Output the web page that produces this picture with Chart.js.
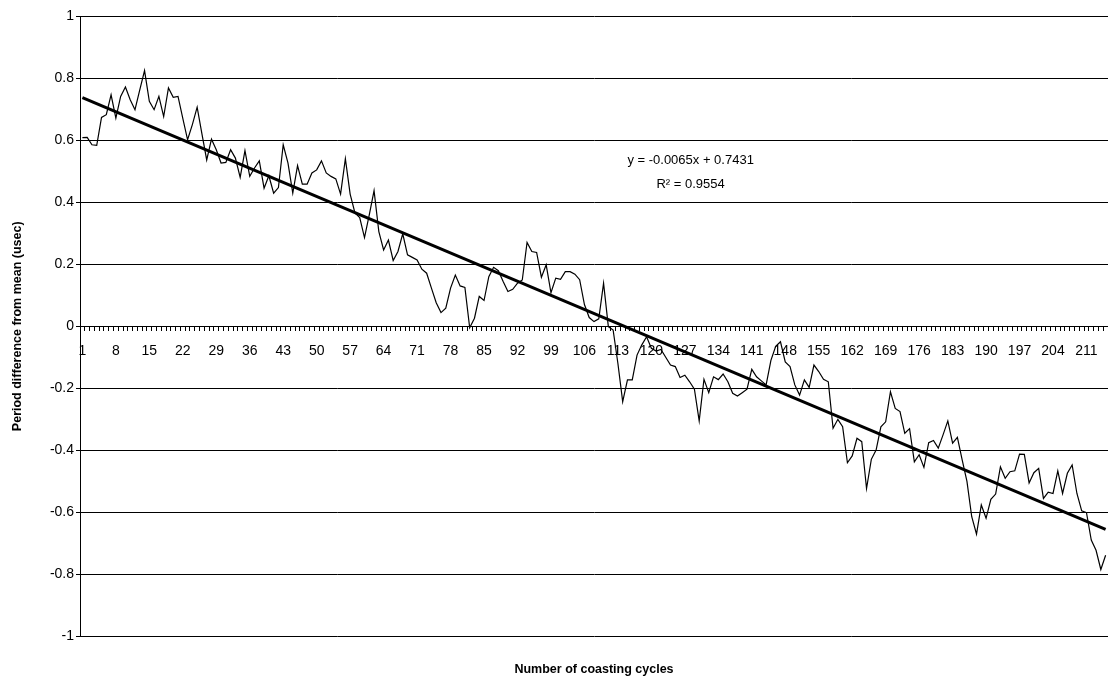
<!DOCTYPE html>
<html>
<head>
  <meta charset="UTF-8">
  <title>Period difference from mean</title>
  <script src="https://cdn.jsdelivr.net/npm/chart.js"></script>
  <style>
    body {
      margin: 0;
      background: #fff;
    }
    #wrap {
      width: 1108px;
      height: 681px;
    }
  </style>
</head>
<body>
  <div id="wrap">
    <canvas id="coastChart" width="1108" height="681"></canvas>
  </div>

  <script>
    // period difference from mean (usec), one value per coasting cycle
    const periodDiff = [
      0.608, 0.609, 0.585, 0.583, 0.673, 0.682, 0.746, 0.671, 0.741, 0.771,
      0.730, 0.698, 0.762, 0.824, 0.725, 0.698, 0.741, 0.676, 0.768, 0.738,
      0.741, 0.670, 0.601, 0.650, 0.706, 0.620, 0.536, 0.603, 0.569, 0.526,
      0.528, 0.569, 0.542, 0.480, 0.566, 0.483, 0.510, 0.533, 0.445, 0.485,
      0.429, 0.447, 0.585, 0.526, 0.429, 0.518, 0.458, 0.458, 0.494, 0.504,
      0.533, 0.494, 0.483, 0.475, 0.426, 0.540, 0.426, 0.365, 0.350, 0.286,
      0.359, 0.437, 0.305, 0.246, 0.278, 0.212, 0.241, 0.298, 0.230, 0.222,
      0.214, 0.184, 0.171, 0.123, 0.076, 0.044, 0.058, 0.123, 0.165, 0.130,
      0.125, -0.005, 0.026, 0.096, 0.083, 0.160, 0.190, 0.179, 0.144, 0.112,
      0.119, 0.139, 0.149, 0.270, 0.241, 0.238, 0.158, 0.198, 0.108, 0.155,
      0.151, 0.176, 0.176, 0.168, 0.150, 0.070, 0.028, 0.015, 0.024, 0.139,
      -0.001, -0.012, -0.120, -0.243, -0.173, -0.173, -0.093, -0.060, -0.034, -0.071,
      -0.080, -0.075, -0.100, -0.125, -0.130, -0.165, -0.158, -0.179, -0.203, -0.305,
      -0.171, -0.214, -0.163, -0.172, -0.154, -0.179, -0.216, -0.225, -0.214, -0.203,
      -0.139, -0.163, -0.176, -0.189, -0.110, -0.065, -0.050, -0.115, -0.130, -0.189,
      -0.222, -0.173, -0.197, -0.125, -0.146, -0.171, -0.179, -0.329, -0.300, -0.324,
      -0.440, -0.418, -0.361, -0.372, -0.523, -0.429, -0.399, -0.324, -0.308, -0.211,
      -0.265, -0.275, -0.345, -0.330, -0.437, -0.414, -0.455, -0.375, -0.368, -0.393,
      -0.350, -0.305, -0.377, -0.358, -0.431, -0.500, -0.614, -0.670, -0.576, -0.619,
      -0.558, -0.541, -0.453, -0.490, -0.469, -0.466, -0.412, -0.413, -0.505, -0.472,
      -0.458, -0.555, -0.535, -0.539, -0.466, -0.539, -0.474, -0.447, -0.539, -0.595,
      -0.601, -0.689, -0.722, -0.784, -0.738
    ];

    // cycle numbers 1..N for the category axis
    const cycles = periodDiff.map((v, i) => String(i + 1));
    const labelEvery = 7;

    // linear trendline as printed on the chart
    const trendSlope = -0.0065;
    const trendIntercept = 0.7431;
    const trendText = ['y = -0.0065x + 0.7431', 'R\u00B2 = 0.9554'];

    const yTicks = { min: -1, max: 1, step: 0.2 };

    const trendData = cycles.map(() => null);
    trendData[0] = trendIntercept + trendSlope * 1;
    trendData[cycles.length - 1] = trendIntercept + trendSlope * cycles.length;

    const fontFamily = '"Liberation Sans", Arial, sans-serif';

    const equationLabel = {
      id: 'equationLabel',
      afterDraw(chart) {
        const { ctx, chartArea } = chart;
        const cx = chartArea.left + 0.594 * (chartArea.right - chartArea.left);
        ctx.save();
        ctx.fillStyle = '#000';
        ctx.font = '13px ' + fontFamily;
        ctx.textAlign = 'center';
        ctx.textBaseline = 'middle';
        ctx.fillText(trendText[0], cx, 160);
        ctx.fillText(trendText[1], cx, 184);
        ctx.restore();
      }
    };

    new Chart(document.getElementById('coastChart'), {
      type: 'line',
      data: {
        labels: cycles,
        datasets: [
          {
            data: periodDiff,
            borderColor: '#000',
            borderWidth: 1.2,
            pointRadius: 0,
            tension: 0
          },
          {
            data: trendData,
            borderColor: '#000',
            borderWidth: 3,
            pointRadius: 0,
            spanGaps: true
          }
        ]
      },
      options: {
        responsive: false,
        animation: false,
        devicePixelRatio: 1,
        layout: { padding: { top: 16, right: 0, bottom: 0, left: 0 } },
        plugins: {
          legend: { display: false },
          tooltip: { enabled: false }
        },
        scales: {
          x: {
            type: 'category',
            position: { y: 0 },
            offset: true,
            // labels sit inside the plot, so no side padding is needed
            afterFit: (s) => { s.paddingLeft = 0; s.paddingRight = 0; },
            grid: {
              offset: true,
              drawOnChartArea: false,
              drawTicks: true,
              tickLength: 4,
              color: '#000'
            },
            border: { display: true, color: '#000', width: 1 },
            ticks: {
              autoSkip: false,
              maxRotation: 0,
              minRotation: 0,
              padding: 12,
              color: '#000',
              font: { family: fontFamily, size: 14 },
              callback: function (v, i) {
                return i % labelEvery === 0 ? this.getLabelForValue(v) : '';
              }
            }
          },
          x2: {
            type: 'category',
            axis: 'x',
            position: 'bottom',
            afterFit: (s) => { s.height = 44.5; s.paddingLeft = 0; s.paddingRight = 0; },
            grid: { display: false, drawTicks: false },
            border: { display: false },
            ticks: { display: false },
            title: {
              display: true,
              text: 'Number of coasting cycles',
              color: '#000',
              font: { family: fontFamily, size: 12.5, weight: 'bold' },
              padding: { top: 0, bottom: 3.5 }
            }
          },
          y: {
            min: yTicks.min,
            max: yTicks.max,
            afterFit: (s) => { s.width = 80; },
            grid: { color: '#000', lineWidth: 1, drawTicks: true, tickLength: 4 },
            border: { display: true, color: '#000', width: 1 },
            ticks: {
              stepSize: yTicks.step,
              padding: 2,
              color: '#000',
              font: { family: fontFamily, size: 14 },
              callback: (v) => String(+v.toFixed(1))
            },
            title: {
              display: true,
              text: 'Period difference from mean (usec)',
              color: '#000',
              font: { family: fontFamily, size: 12.5, weight: 'bold' },
              padding: { top: 10.5, bottom: 0 }
            }
          }
        }
      },
      plugins: [equationLabel]
    });
  </script>
</body>
</html>
